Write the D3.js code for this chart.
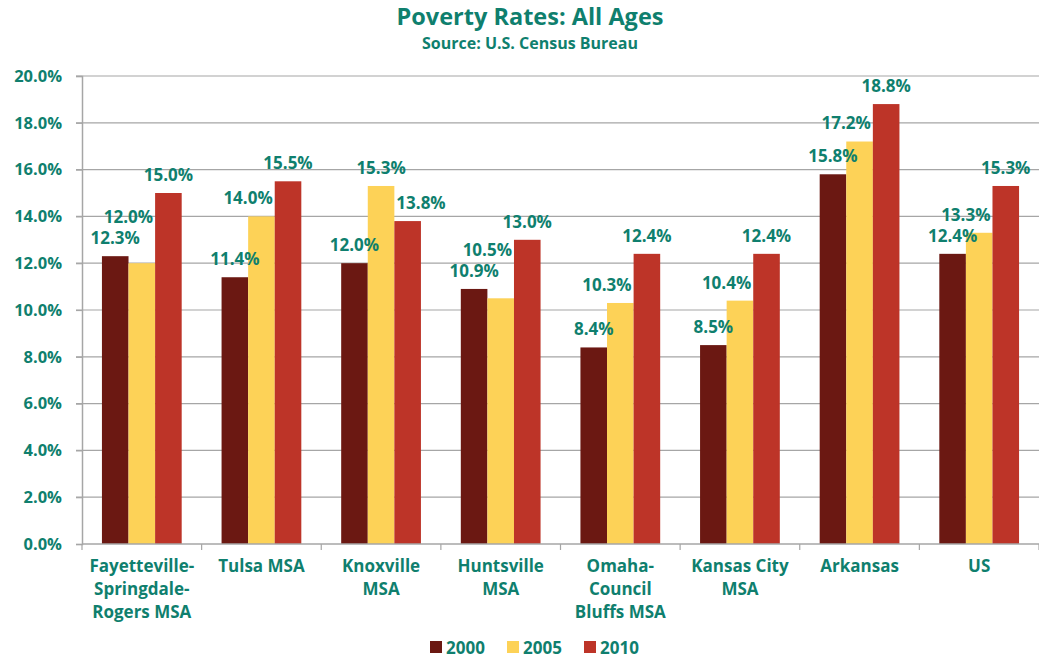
<!DOCTYPE html>
<html>
<head>
<meta charset="utf-8">
<script src="https://cdn.jsdelivr.net/npm/d3@7"></script>
<style>
  body { margin: 0; background: #fff; }
  svg text { font-family: "Open Sans", Lato, sans-serif; font-weight: 700; fill: #0f7f6e; }
</style>
</head>
<body>
<svg id="chart" width="1039" height="657"></svg>
<script>
// data
var categories = [
  ["Fayetteville-", "Springdale-", "Rogers MSA"],
  ["Tulsa MSA"],
  ["Knoxville", "MSA"],
  ["Huntsville", "MSA"],
  ["Omaha-", "Council", "Bluffs MSA"],
  ["Kansas City", "MSA"],
  ["Arkansas"],
  ["US"]
];
var seriesNames = ["2000", "2005", "2010"];
var values2000 = [12.3, 11.4, 12.0, 10.9, 8.4, 8.5, 15.8, 12.4];
var values2005 = [12.0, 14.0, 15.3, 10.5, 10.3, 10.4, 17.2, 13.3];
var values2010 = [15.0, 15.5, 13.8, 13.0, 12.4, 12.4, 18.8, 15.3];
var yTicks = [0, 2, 4, 6, 8, 10, 12, 14, 16, 18, 20];
var colors = ["#6b1812", "#fdd257", "#bd3428"];

var seriesValues = [values2000, values2005, values2010];
var teal = "#0f7f6e";

var svg = d3.select("#chart");
var margin = {top: 76, right: 0, bottom: 113, left: 82};
var width = 1039 - margin.left - margin.right;
var height = 657 - margin.top - margin.bottom;

// タイトル
svg.append("text")
  .attr("x", 530).attr("y", 25)
  .attr("text-anchor", "middle")
  .style("font-size", "23.5px")
  .text("Poverty Rates: All Ages");
svg.append("text")
  .attr("x", 530).attr("y", 49)
  .attr("text-anchor", "middle")
  .style("font-size", "16px")
  .text("Source: U.S. Census Bureau");

var g = svg.append("g").attr("transform", "translate(" + margin.left + "," + margin.top + ")");

var idx = d3.range(categories.length);
var x0 = d3.scaleBand()
  .domain(idx)
  .range([0, width])
  .paddingInner(1/3)
  .paddingOuter(1/6);
var x1 = d3.scaleBand()
  .domain(seriesNames)
  .range([0, x0.bandwidth()]);
var y = d3.scaleLinear()
  .domain([0, 20])
  .range([height, 0]);

// グリッド
g.append("g")
  .selectAll("line")
  .data(yTicks.filter(function(t){ return t > 0; }))
  .enter().append("line")
  .attr("x1", -6).attr("x2", width)
  .attr("y1", function(d){ return y(d); })
  .attr("y2", function(d){ return y(d); })
  .attr("stroke", "#a6a6a6")
  .attr("stroke-width", 1.2);

// Y軸
var yAxis = g.append("g")
  .call(d3.axisLeft(y).tickValues(yTicks).tickSize(6).tickPadding(14)
    .tickFormat(function(d){ return d3.format(".1f")(d) + "%"; }));
yAxis.select(".domain").attr("stroke", "#a6a6a6").attr("stroke-width", 1.5);
yAxis.selectAll(".tick line").attr("stroke", "#a6a6a6").attr("stroke-width", 1.2);
yAxis.selectAll(".tick text")
  .style("font-size", "16.5px")
  .style("font-family", "'Open Sans', sans-serif")
  .attr("fill", teal);

// バー
var groups = g.selectAll(".grp")
  .data(idx)
  .enter().append("g")
  .attr("class", "grp")
  .attr("transform", function(i){ return "translate(" + x0(i) + ",0)"; });

groups.selectAll("rect")
  .data(function(i){ return seriesNames.map(function(s, k){ return {key: s, k: k, v: seriesValues[k][i]}; }); })
  .enter().append("rect")
  .attr("x", function(d){ return x1(d.key); })
  .attr("width", x1.bandwidth())
  .attr("y", function(d){ return y(d.v); })
  .attr("height", function(d){ return height - y(d.v); })
  .attr("fill", function(d){ return colors[d.k]; });

// X軸
g.append("line")
  .attr("x1", 0).attr("x2", width)
  .attr("y1", height).attr("y2", height)
  .attr("stroke", "#a6a6a6").attr("stroke-width", 1.5);
var step = x0.step();
g.append("g").selectAll("line")
  .data(d3.range(categories.length + 1))
  .enter().append("line")
  .attr("x1", function(i){ return i * step; })
  .attr("x2", function(i){ return i * step; })
  .attr("y1", height).attr("y2", height + 6)
  .attr("stroke", "#a6a6a6").attr("stroke-width", 1.2);

var catText = g.append("g").selectAll("text")
  .data(idx)
  .enter().append("text")
  .attr("text-anchor", "middle")
  .attr("x", function(i){ return x0(i) + x0.bandwidth() / 2; })
  .attr("y", height + 28)
  .style("font-size", "17px");
catText.selectAll("tspan")
  .data(function(i){ return categories[i]; })
  .enter().append("tspan")
  .attr("x", function(){ var i = d3.select(this.parentNode).datum(); return x0(i) + x0.bandwidth() / 2; })
  .attr("dy", function(d, j){ return j === 0 ? 0 : 23; })
  .text(function(d){ return d; });

// データラベル
// 2005/2010 は隣の高いバーに掛かれば横へ逃がし、ラベル同士が重なれば上へずらす
groups.each(function(i){
  var grp = d3.select(this);
  var placed = [];
  var bars = seriesNames.map(function(s, k){
    return {x: x1(s), w: x1.bandwidth(), top: y(seriesValues[k][i])};
  });
  seriesNames.forEach(function(s, k){
    var v = seriesValues[k][i];
    var cx = x1(s) + x1.bandwidth() / 2;
    var t = grp.append("text")
      .attr("text-anchor", "middle")
      .attr("x", cx)
      .attr("y", y(v) - 18)
      .attr("dy", "0.35em")
      .style("font-size", "17px")
      .text(d3.format(".1f")(v) + "%");
    var b = t.node().getBBox();
    if (k > 0) {
      bars.forEach(function(bar, j){
        if (j === k) return;
        if (b.y + b.height - 3 > bar.top && b.x < bar.x + bar.w && b.x + b.width > bar.x) {
          if (j > k) cx -= (b.x + b.width) - bar.x + 2;
          else cx += (bar.x + bar.w) - b.x + 2;
          t.attr("x", cx);
          b = t.node().getBBox();
        }
      });
    }
    var moved = true;
    while (moved) {
      moved = false;
      placed.forEach(function(p){
        if (b.x < p.x + p.width && b.x + b.width > p.x &&
            b.y + 3 < p.y + p.height && b.y + b.height > p.y + 3) {
          var shift = (b.y + b.height) - p.y - 2;
          t.attr("y", +t.attr("y") - shift);
          b = t.node().getBBox();
          moved = true;
        }
      });
    }
    placed.push(b);
  });
});

// 凡例
var legendX = [430, 507, 584];
var legend = svg.append("g").selectAll("g")
  .data(seriesNames)
  .enter().append("g")
  .attr("transform", function(d, k){ return "translate(" + legendX[k] + ",641)"; });
legend.append("rect")
  .attr("width", 12).attr("height", 12)
  .attr("fill", function(d, k){ return colors[k]; });
legend.append("text")
  .attr("x", 16).attr("y", 12.5)
  .style("font-size", "17px")
  .text(function(d){ return d; });
</script>
</body>
</html>
